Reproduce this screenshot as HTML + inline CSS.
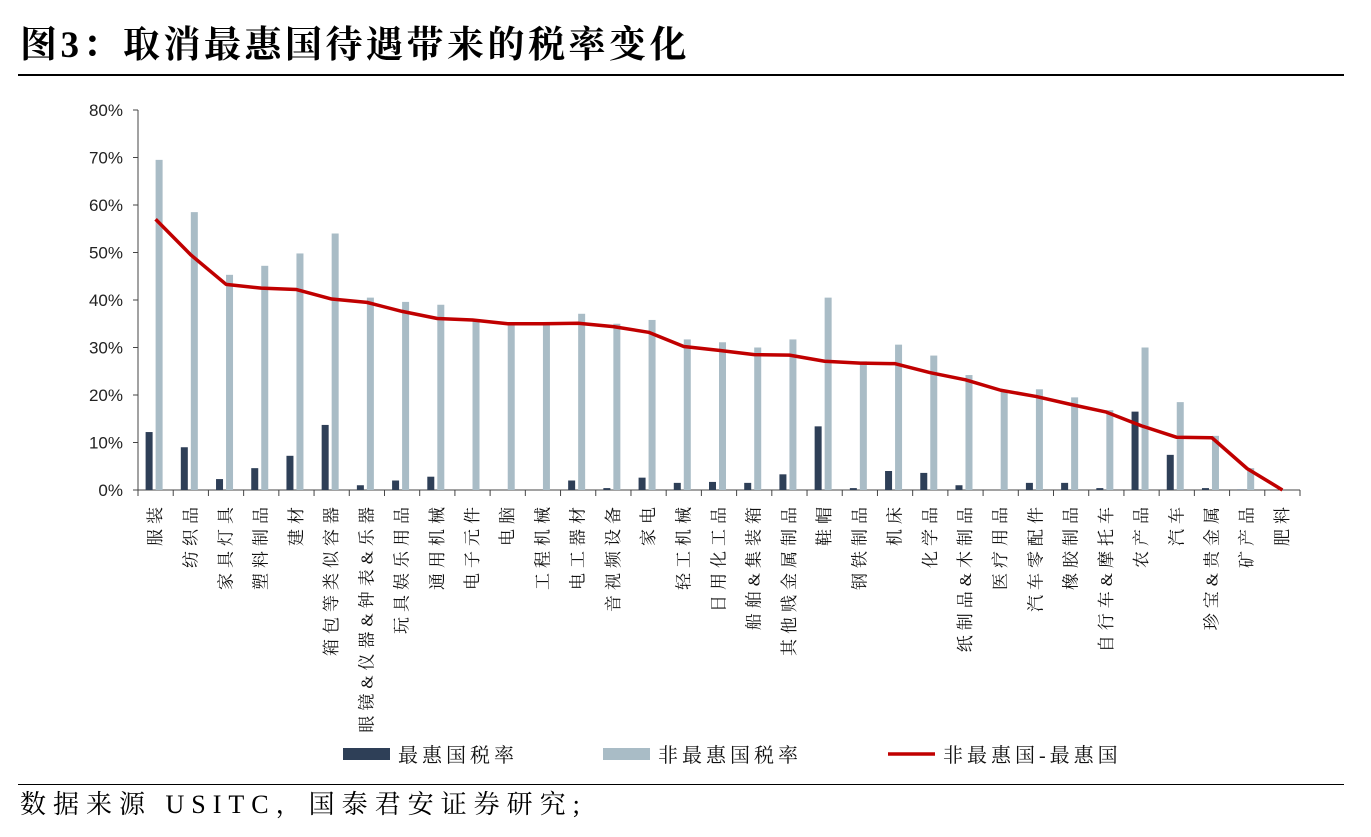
<!DOCTYPE html>
<html><head><meta charset="utf-8"><style>
body{margin:0;background:#fff;width:1371px;height:837px;overflow:hidden;font-family:"Liberation Serif","Noto Serif CJK SC",serif;}
#title{position:absolute;left:20px;top:24px;font-size:37px;font-weight:bold;letter-spacing:3.5px;line-height:44px;font-family:"Liberation Serif","Noto Serif CJK SC",serif;}
#foot{position:absolute;left:20px;top:788px;font-size:26px;letter-spacing:7px;line-height:34px;}
.hr{position:absolute;left:18px;width:1326px;height:2px;background:#000;}
</style></head><body>
<div id="title">图3：取消最惠国待遇带来的税率变化</div>
<div class="hr" style="top:74px"></div>
<div class="hr" style="top:784px;height:1px"></div>
<div id="foot">数据来源 USITC，国泰君安证券研究;</div>
<svg id="chart" width="1371" height="837" style="position:absolute;left:0;top:0"></svg>
<script>
const categories=["服装","纺织品","家具灯具","塑料制品","建材","箱包等类似容器","眼镜&仪器&钟表&乐器","玩具娱乐用品","通用机械","电子元件","电脑","工程机械","电工器材","音视频设备","家电","轻工机械","日用化工品","船舶&集装箱","其他贱金属制品","鞋帽","钢铁制品","机床","化学品","纸制品&木制品","医疗用品","汽车零配件","橡胶制品","自行车&摩托车","农产品","汽车","珍宝&贵金属","矿产品","肥料"];
const mfnRate=[12.2,9,2.3,4.6,7.2,13.7,1,2,2.8,0,0,0,2,0.4,2.6,1.5,1.7,1.5,3.3,13.4,0.4,4,3.6,1,0,1.5,1.5,0.4,16.5,7.4,0.4,0.1,0];
const nonMfnRate=[69.5,58.5,45.3,47.2,49.8,54,40.5,39.6,39,35.8,35,35,37.1,35,35.8,31.7,31.1,30,31.7,40.5,27.1,30.6,28.3,24.2,21,21.2,19.5,16.8,30,18.5,11.4,4.6,0];
const diffRate=[57,49.5,43.3,42.5,42.2,40.2,39.5,37.6,36.1,35.8,35,35,35.1,34.4,33.2,30.2,29.4,28.5,28.4,27.1,26.7,26.6,24.7,23.2,21,19.7,18,16.4,13.5,11.1,11,4.5,0];
const yTicks=[0,10,20,30,40,50,60,70,80];
const NS="http://www.w3.org/2000/svg",svg=document.getElementById('chart');
const x0=138,x1=1300,y0=490,yTop=110,n=categories.length,cw=(x1-x0)/n;
const y=v=>y0-(v/80)*(y0-yTop);
const cx=i=>x0+cw*(i+0.5);
function mk(t,a){const e=document.createElementNS(NS,t);for(const k in a)e.setAttribute(k,a[k]);svg.appendChild(e);return e;}
let e=mk('line',{x1:x0,y1:yTop,x2:x0,y2:y0,stroke:'#444'});

e=mk('line',{x1:x0,y1:y0,x2:x1,y2:y0,stroke:'#444'});

yTicks.forEach(t=>{mk('line',{x1:x0-5,y1:y(t),x2:x0,y2:y(t),stroke:'#444'});
const tx=mk('text',{x:x0-15,y:y(t)+6,'text-anchor':'end','font-size':17,'font-family':'Liberation Sans, sans-serif',fill:'#222'});tx.textContent=t+'%';
});
for(let i=0;i<=n;i++)mk('line',{x1:x0+cw*i,y1:y0,x2:x0+cw*i,y2:y0+6,stroke:'#444'});
categories.forEach((c,i)=>{
 let b=mk('rect',{x:cx(i)-10,y:y(mfnRate[i]),width:7,height:y0-y(mfnRate[i]),fill:'#2e3f57'});
 
 b=mk('rect',{x:cx(i)+0,y:y(nonMfnRate[i]),width:7,height:y0-y(nonMfnRate[i]),fill:'#a9bcc6'});
 
 const lx=cx(i),ly=502;
 const t=mk('text',{x:lx,y:ly,'text-anchor':'end','dominant-baseline':'central','font-size':17,transform:`rotate(-90 ${lx} ${ly})`,'font-family':'Liberation Serif, Noto Serif CJK SC, serif',fill:'#111','letter-spacing':5});
 t.textContent=c;
});
const pl=mk('polyline',{points:diffRate.map((v,i)=>cx(i)+','+y(v)).join(' '),fill:'none',stroke:'#c00000','stroke-width':3.5,'stroke-linejoin':'round'});

const leg=[['rect','#2e3f57',343,'最惠国税率'],['rect','#a9bcc6',603,'非最惠国税率'],['line','#c00000',888,'非最惠国-最惠国']];
leg.forEach(l=>{let s;
 if(l[0]=='rect')s=mk('rect',{x:l[2],y:748,width:47,height:12,fill:l[1]});else s=mk('line',{x1:l[2],y1:754,x2:l[2]+47,y2:754,stroke:l[1],'stroke-width':3.5});
 
 const t=mk('text',{x:l[2]+55,y:762,'font-size':20,fill:'#111','letter-spacing':4,'font-family':'Liberation Serif, Noto Serif CJK SC, serif'});t.textContent=l[3];
 });
</script>
</body></html>
